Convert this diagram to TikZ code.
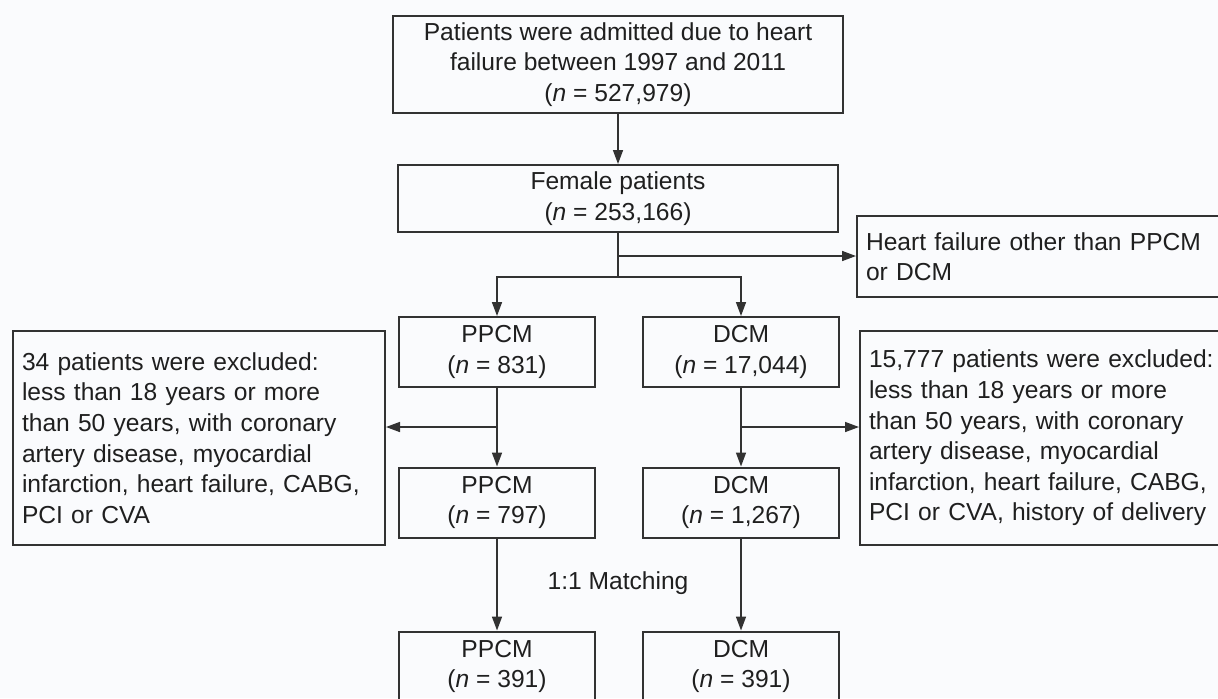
\documentclass[tikz,border=0pt]{standalone}
\usepackage{fontspec}
\setmainfont{Liberation Sans}
\usetikzlibrary{arrows.meta}
\definecolor{linegray}{RGB}{50,50,50}
\definecolor{bggray}{RGB}{250,251,253}
\newcommand{\chartfont}{\fontsize{12.3pt}{15.3pt}\selectfont}
\newcommand{\nval}[1]{(\textit{n} = #1)}
\tikzset{%
    box/.style={draw=linegray, line width=1pt, inner sep=0pt, align=center, font=\chartfont, text=black!88},
    sbox/.style={box, minimum width=98pt, minimum height=35pt},
    xbox/.style={box, anchor=north west, align=left, inner xsep=4.5pt, text width=177pt, minimum height=107pt}
}

\begin{document}
\begin{tikzpicture}[
                x=0.5pt, y=-0.5pt,
                arr/.style={draw=linegray, line width=0.8pt, -{Triangle[length=7pt,width=5pt]}},
                ln/.style={draw=linegray, line width=0.8pt}
            ]
            \fill[bggray] (0,0) rectangle (1218,698);
            \useasboundingbox (0,0) rectangle (1218,698);

            \node[box, minimum width=225pt, minimum height=48.5pt] (all) at (618,64.5) {Patients were admitted due to heart\\failure between 1997 and 2011\\\nval{527,979}};
            \node[box, minimum width=220pt, minimum height=33.5pt] (fem) at (618,198.5) {Female patients\\\nval{253,166}};
            \node[xbox, text width=180pt, minimum height=40.5pt] (other) at (856,215) {Heart failure other than PPCM\\or DCM};
            \node[sbox] (ppcmA) at (497,352) {PPCM\\\nval{831}};
            \node[sbox] (dcmA) at (741,352) {DCM\\\nval{17,044}};
            \node[xbox] (exclL) at (12,330) {34 patients were excluded:\\less than 18 years or more\\than 50 years, with coronary\\artery disease, myocardial\\infarction, heart failure, CABG,\\PCI or CVA};
            \node[xbox, text width=180pt] (exclR) at (859,330) {15,777 patients were excluded:\\less than 18 years or more\\than 50 years, with coronary\\artery disease, myocardial\\infarction, heart failure, CABG,\\PCI or CVA, history of delivery};
            \node[sbox] (ppcmB) at (497,502.5) {PPCM\\\nval{797}};
            \node[sbox] (dcmB) at (741,502.5) {DCM\\\nval{1,267}};
            \node[sbox] (ppcmC) at (497,666.5) {PPCM\\\nval{391}};
            \node[sbox] (dcmC) at (741,666.5) {DCM\\\nval{391}};
            \node[font=\chartfont, text=black!88] (match) at (618,583) {1:1 Matching};

            \coordinate (split) at (618,277);
            \coordinate (brO) at (618,256);
            \coordinate (brL) at (497,427);
            \coordinate (brR) at (741,427);

            \draw[arr] (all) -- (fem);
            \draw[ln] (fem) -- (split);
            \draw[arr] (brO) -- (brO -| other.west);
            \draw[arr] (split) -| (ppcmA);
            \draw[arr] (split) -| (dcmA);
            \draw[arr] (ppcmA) -- (ppcmB);
            \draw[arr] (brL) -- (brL -| exclL.east);
            \draw[arr] (dcmA) -- (dcmB);
            \draw[arr] (brR) -- (brR -| exclR.west);
            \draw[arr] (ppcmB) -- (ppcmC);
            \draw[arr] (dcmB) -- (dcmC);
        \end{tikzpicture}
\end{document}
